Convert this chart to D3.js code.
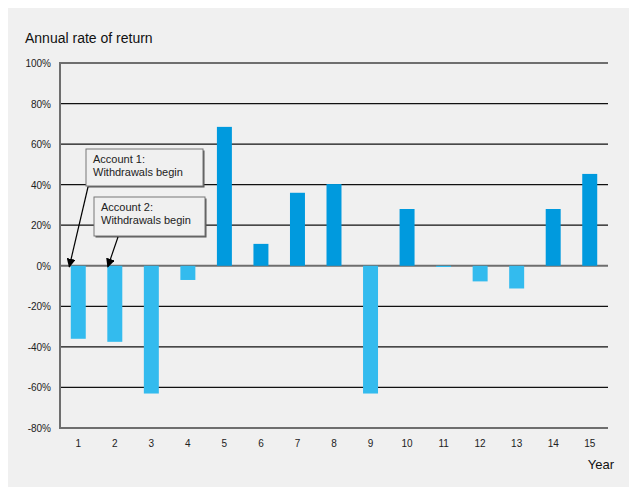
<!DOCTYPE html>
<html><head><meta charset="utf-8">
<script src="https://cdn.jsdelivr.net/npm/d3@7"></script>
<style>
html,body{margin:0;padding:0;background:#fff;}
svg{display:block;font-family:"Liberation Sans",Arial,Helvetica,sans-serif;}
</style></head>
<body>
<svg id="chart" width="629" height="488"></svg>
<script>
const years = [1,2,3,4,5,6,7,8,9,10,11,12,13,14,15];
const returns = [-36,-37.5,-63,-7,68.5,10.8,36,40.3,-63,28,-0.6,-7.7,-11.2,28,45.3];
const yTicks = [100,80,60,40,20,0,-20,-40,-60,-80];
const notes = [
  {lines:["Account 1:","Withdrawals begin"], year:1},
  {lines:["Account 2:","Withdrawals begin"], year:2}
];

const svg = d3.select("#chart");
svg.append("rect").attr("x",8).attr("y",8).attr("width",621).attr("height",479).attr("fill","#f0f0f0");

const x = d3.scaleBand().domain(years).range([60,608]).paddingInner(0.59).paddingOuter(0.295);
const y = d3.scaleLinear().domain([-80,100]).range([428,63]);

// gridlines
svg.append("g").selectAll("line").data(yTicks).join("line")
  .attr("x1",60).attr("x2",608)
  .attr("y1",d=>y(d)).attr("y2",d=>y(d))
  .attr("stroke",d=>(d===100||d===0||d===-80)?"#6e6e6e":"#111")
  .attr("stroke-width",d=>(d===100||d===0||d===-80)?2:1.2);

// y axis labels
svg.append("g").selectAll("text").data(yTicks).join("text")
  .attr("x",51).attr("y",d=>y(d)+4)
  .attr("text-anchor","end").attr("font-size",10).attr("fill","#222")
  .text(d=>d+"%");

// bars
svg.append("g").selectAll("rect").data(years).join("rect")
  .attr("x",d=>x(d)).attr("width",x.bandwidth())
  .attr("y",(d,i)=>y(Math.max(0,returns[i])))
  .attr("height",(d,i)=>Math.max(1,Math.abs(y(returns[i])-y(0))))
  .attr("fill",(d,i)=>returns[i]>=0?"#009ade":"#33bbee");

// left axis line
svg.append("line").attr("x1",60).attr("x2",60).attr("y1",62).attr("y2",429)
  .attr("stroke","#6e6e6e").attr("stroke-width",2);

// x labels
svg.append("g").selectAll("text").data(years).join("text")
  .attr("x",d=>x(d)+x.bandwidth()/2).attr("y",447)
  .attr("text-anchor","middle").attr("font-size",10).attr("fill","#222")
  .text(d=>d);

svg.append("text").attr("x",25).attr("y",43).attr("font-size",14).attr("fill","#111").text("Annual rate of return");
svg.append("text").attr("x",614).attr("y",469).attr("text-anchor","end").attr("font-size",13).attr("fill","#111").text("Year");

// annotations
const defs = svg.append("defs");
defs.append("marker").attr("id","arr").attr("viewBox","0 0 10 10").attr("refX",9).attr("refY",5)
  .attr("markerWidth",9).attr("markerHeight",9).attr("orient","auto-start-reverse").attr("markerUnits","userSpaceOnUse")
  .append("path").attr("d","M0,0L10,5L0,10z").attr("fill","#000");

const boxes = [{x:86,y:149,w:117,h:37,sx:88,sy:187},{x:94,y:197,w:111,h:39,sx:118,sy:237}];
notes.forEach((n,i)=>{
  const b = boxes[i];
  svg.append("rect").attr("x",b.x+1.5).attr("y",b.y+1.5).attr("width",b.w).attr("height",b.h).attr("fill","#555");
  svg.append("rect").attr("x",b.x).attr("y",b.y).attr("width",b.w).attr("height",b.h).attr("fill","#f0f0f0").attr("stroke","#777").attr("stroke-width",1);
  n.lines.forEach((t,j)=>svg.append("text").attr("x",b.x+7).attr("y",b.y+14+j*13).attr("font-size",11).attr("fill","#222").text(t));
  const tx = x(n.year)+x.bandwidth()/2 - 9 + (i===1?2:0);
  svg.append("line").attr("x1",b.sx).attr("y1",b.sy).attr("x2",tx).attr("y2",y(0)+1)
    .attr("stroke","#000").attr("stroke-width",1.2).attr("marker-end","url(#arr)");
});
</script>
</body></html>
